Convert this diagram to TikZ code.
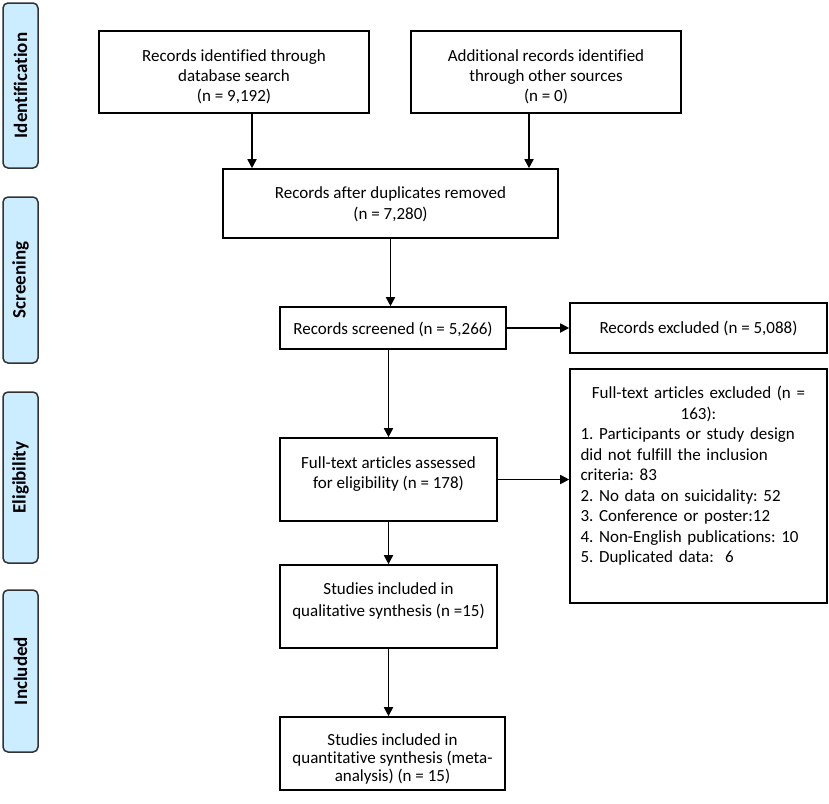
\documentclass[tikz,border=0pt]{standalone}
\usepackage{fontspec}
\setmainfont{Carlito}[RawFeature={-liga;-clig}]
\usetikzlibrary{arrows.meta}
\definecolor{phasefill}{RGB}{204,236,255}
\definecolor{phasedraw}{RGB}{50,50,50}
\begin{document}
\frenchspacing
\begin{tikzpicture}[x=1pt,y=-1pt,
  font=\fontsize{17}{20}\selectfont,
  box/.style={draw, line width=1.6pt, inner sep=0pt},
  txt/.style={inner sep=0pt, align=center},
  phase/.style={draw=phasedraw, fill=phasefill, line width=1.5pt, rounded corners=5pt,
    inner sep=0pt, rotate=90, font=\fontsize{19}{20}\selectfont\bfseries},
  arr/.style={line width=1.7pt, -{Triangle[length=9pt,width=9pt]}}]
\useasboundingbox (0,0) rectangle (829,803);
% phase labels
\node[phase, minimum width=165pt, minimum height=35pt] (ph1) at (20.5,85.5) {Identification};
\node[phase, minimum width=166pt, minimum height=35pt] (ph2) at (20.5,280) {Screening};
\node[phase, minimum width=171pt, minimum height=35pt] (ph3) at (20.5,477.5) {Eligibility};
\node[phase, minimum width=162pt, minimum height=35pt] (ph4) at (20.5,671) {Included};
% boxes
\node[box, minimum width=270pt, minimum height=82pt] (b1) at (234,72) {};
\node[box, minimum width=270pt, minimum height=82pt] (b2) at (546,72) {};
\node[box, minimum width=335pt, minimum height=69pt] (b3) at (390.5,203.5) {};
\node[box, minimum width=226pt, minimum height=42pt] (b4) at (393,328) {};
\node[box, minimum width=257pt, minimum height=50pt] (b5) at (698.5,328) {};
\node[box, minimum width=257pt, minimum height=234pt] (b6) at (698.5,486) {};
\node[box, minimum width=217pt, minimum height=83pt] (b7) at (388.5,479.5) {};
\node[box, minimum width=217pt, minimum height=83pt] (b8) at (388.5,606.5) {};
\node[box, minimum width=225pt, minimum height=73pt] (b9) at (392.5,753.5) {};
% texts
\node[txt] (t1) at ([yshift=-4.5pt]b1.center)
  {Records identified through\\database search\\(n = 9,192)};
\node[txt] (t2) at ([yshift=-4.5pt]b2.center)
  {Additional records identified\\through other sources\\(n = 0)};
\node[txt, font=\fontsize{17}{21}\selectfont] (t3) at ([yshift=-1pt]b3.center)
  {Records after duplicates removed\\(n = 7,280)};
\node[txt] (t4) at ([yshift=-1.5pt]b4.center) {Records screened (n = 5,266)};
\node[txt] (t5) at (b5.center) {Records excluded (n = 5,088)};
\node[txt, align=left, text width=236pt, font=\fontsize{17}{20.5}\selectfont] (t6)
  at ([yshift=10pt]b6.center)
  {{\centering Full-text articles excluded (n =\\163):\par}
   1. Participants or study design\\
   did not fulfill the inclusion\\
   criteria: 83\\
   2. No data on suicidality: 52\\
   3. Conference or poster:12\\
   4. Non-English publications: 10\\
   5. Duplicated data:\ \ 6};
\node[txt] (t7) at ([yshift=5.5pt]b7.center)
  {Full-text articles assessed\\for eligibility (n = 178)};
\node[txt, font=\fontsize{17}{21.5}\selectfont] (t8) at ([yshift=5.5pt]b8.center)
  {Studies included in\\qualitative synthesis (n =15)};
\node[txt, font=\fontsize{17}{18}\selectfont] (t9) at ([yshift=-5pt]b9.center)
  {Studies included in\\quantitative synthesis (meta-\\analysis) (n = 15)};
% connectors
\coordinate (x1) at (252,0);
\coordinate (x2) at (529,0);
\draw[arr] (b1.south -| x1) -- (b3.north -| x1);
\draw[arr] (b2.south -| x2) -- (b3.north -| x2);
\draw[arr] (b3.south) -- (b3.south |- b4.north);
\draw[arr] (b4.east) -- (b5.west);
\draw[arr] (b7.north |- b4.south) -- (b7.north);
\draw[arr] (b7.east) -- (b7.east -| b6.west);
\draw[arr] (b7.south) -- (b8.north);
\draw[arr] (b8.south) -- (b8.south |- b9.north);
\end{tikzpicture}
\end{document}
